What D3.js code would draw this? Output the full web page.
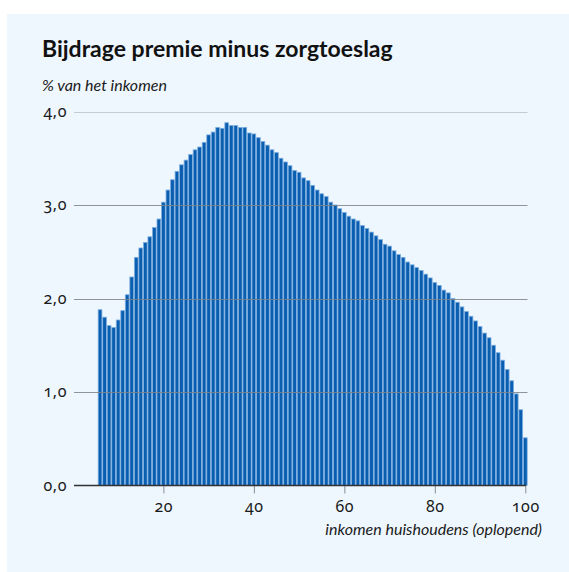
<!DOCTYPE html>
<html>
<head>
<meta charset="utf-8">
<script src="https://d3js.org/d3.v7.min.js"></script>
<style>
  html, body { margin: 0; padding: 0; background: #fff; }
  svg { display: block; font-family: Lato, "Noto Sans", sans-serif; }
  .num { font-family: "Noto Sans", Lato, sans-serif; font-variant-numeric: oldstyle-nums; font-feature-settings: "onum" 1; }
</style>
</head>
<body>
<div id="chart"></div>
<script>
// percentielen huishoudinkomen (oplopend)
const percentiles = [
  6, 7, 8, 9, 10, 11, 12, 13, 14, 15, 16, 17, 18, 19, 20,
  21, 22, 23, 24, 25, 26, 27, 28, 29, 30, 31, 32, 33, 34, 35,
  36, 37, 38, 39, 40, 41, 42, 43, 44, 45, 46, 47, 48, 49, 50,
  51, 52, 53, 54, 55, 56, 57, 58, 59, 60, 61, 62, 63, 64, 65,
  66, 67, 68, 69, 70, 71, 72, 73, 74, 75, 76, 77, 78, 79, 80,
  81, 82, 83, 84, 85, 86, 87, 88, 89, 90, 91, 92, 93, 94, 95,
  96, 97, 98, 99, 100
];

// bijdrage premie minus zorgtoeslag, % van het inkomen
const share = [
  1.88, 1.80, 1.71, 1.69, 1.77, 1.87, 2.04, 2.23, 2.44, 2.54, 2.60, 2.66, 2.76, 2.85, 3.03,
  3.16, 3.27, 3.36, 3.43, 3.48, 3.54, 3.59, 3.62, 3.67, 3.75, 3.78, 3.83, 3.82, 3.88, 3.85,
  3.85, 3.83, 3.83, 3.77, 3.76, 3.72, 3.68, 3.64, 3.59, 3.56, 3.50, 3.46, 3.42, 3.37, 3.35,
  3.29, 3.26, 3.21, 3.16, 3.12, 3.09, 3.03, 3.00, 2.96, 2.92, 2.88, 2.85, 2.83, 2.78, 2.75,
  2.71, 2.67, 2.63, 2.58, 2.56, 2.51, 2.47, 2.44, 2.39, 2.36, 2.33, 2.30, 2.26, 2.22, 2.17,
  2.14, 2.09, 2.06, 2.00, 1.96, 1.91, 1.86, 1.81, 1.76, 1.70, 1.63, 1.58, 1.50, 1.42, 1.34,
  1.24, 1.12, 0.98, 0.81, 0.51
];

const yTicks = [0, 1, 2, 3, 4];
const xTicks = [20, 40, 60, 80, 100];

const title = "Bijdrage premie minus zorgtoeslag";
const subtitle = "% van het inkomen";
const xTitle = "inkomen huishoudens (oplopend)";

const width = 569;
const height = 572;

const data = percentiles.map((p, i) => ({p: p, v: share[i]}));

const svg = d3.select("#chart")
  .append("svg")
  .attr("width", width)
  .attr("height", height);

// achtergrondvlak
svg.append("rect")
  .attr("x", 7).attr("y", 14)
  .attr("width", width - 7).attr("height", height - 14)
  .attr("fill", "#eef7fe");

const x = d3.scaleLinear().domain([0, 100]).range([72.9, 525.3]);
const y = d3.scaleLinear().domain([0, 4]).range([485.5, 111.5]);

const fmt = d => d3.format(".1f")(d).replace(".", ",");

// balken
svg.append("g")
  .selectAll("rect")
  .data(data)
  .join("rect")
    .attr("x", d => x(d.p - 0.5) + 0.4)
    .attr("width", x(1) - x(0) - 0.8)
    .attr("y", d => y(d.v))
    .attr("height", d => y(0) - y(d.v))
    .attr("fill", "#0a5eb0")
    .attr("stroke", "#7eaee0")
    .attr("stroke-width", 0.8);

// rasterlijnen
svg.append("g")
  .selectAll("line")
  .data(yTicks.filter(d => d > 0))
  .join("line")
    .attr("x1", 74).attr("x2", 527.5)
    .attr("y1", d => Math.round(y(d)) + 0.5)
    .attr("y2", d => Math.round(y(d)) + 0.5)
    .attr("stroke", d => d === 4 ? "#c3ccd4" : "#7d8288")
    .attr("stroke-opacity", d => d === 4 ? 1 : 0.85)
    .attr("stroke-width", 1);

// y-labels
svg.append("g")
  .selectAll("text")
  .data(yTicks)
  .join("text")
    .attr("class", "num")
    .attr("x", 67)
    .attr("y", d => y(d) + 5)
    .attr("text-anchor", "end")
    .attr("font-size", 16)
    .attr("letter-spacing", 0.6)
    .attr("fill", "#1a1a1a")
    .text(fmt);

// x-as
const xAxis = d3.axisBottom(x)
  .tickValues(xTicks)
  .tickSize(8)
  .tickPadding(7)
  .tickFormat(d3.format("d"));

const gx = svg.append("g")
  .attr("transform", `translate(0,${y(0)})`)
  .call(xAxis);
gx.select(".domain").remove();
gx.selectAll(".tick line").attr("stroke", "#8a8f94");
gx.selectAll(".tick text")
  .attr("class", "num")
  .attr("font-family", null)
  .attr("font-size", 16)
  .attr("letter-spacing", 0.6)
  .attr("fill", "#1a1a1a");

svg.append("line")
  .attr("x1", 74).attr("x2", 526)
  .attr("y1", y(0)).attr("y2", y(0))
  .attr("stroke", "#333")
  .attr("stroke-width", 1.5);

// teksten
svg.append("text")
  .attr("x", 42).attr("y", 57)
  .attr("font-size", 23)
  .attr("font-weight", "bold")
  .attr("fill", "#111")
  .text(title);

svg.append("text")
  .attr("x", 42).attr("y", 91)
  .attr("font-size", 16)
  .attr("font-style", "italic")
  .attr("fill", "#1a1a1a")
  .text(subtitle);

svg.append("text")
  .attr("x", 542).attr("y", 535)
  .attr("text-anchor", "end")
  .attr("font-size", 16)
  .attr("font-style", "italic")
  .attr("fill", "#1a1a1a")
  .text(xTitle);
</script>
</body>
</html>
